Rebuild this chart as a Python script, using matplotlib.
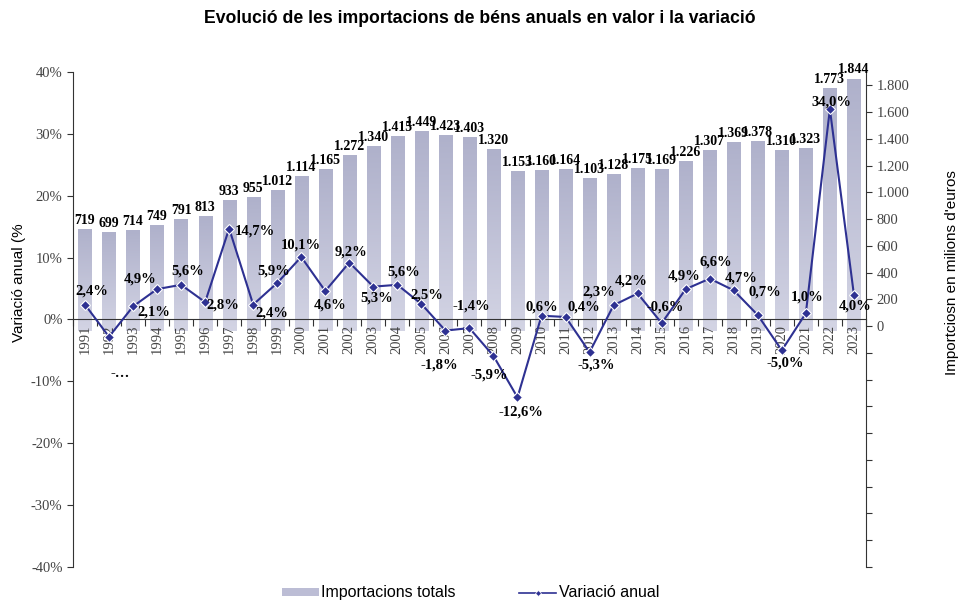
import numpy as np
import matplotlib
matplotlib.use('Agg')
import matplotlib.pyplot as plt
import matplotlib.ticker as mticker
from matplotlib.colors import LinearSegmentedColormap
from matplotlib.patches import Patch
from matplotlib.lines import Line2D

# data
years = list(range(1991, 2024))
imports = [719, 699, 714, 749, 791, 813, 933, 955, 1012, 1114, 1165, 1272, 1340,
           1415, 1449, 1423, 1403, 1320, 1153, 1160, 1164, 1103, 1128, 1175, 1169,
           1226, 1307, 1369, 1378, 1310, 1323, 1773, 1844]
variation = [2.4, -2.8, 2.1, 4.9, 5.6, 2.8, 14.7, 2.4, 5.9, 10.1, 4.6, 9.2, 5.3,
             5.6, 2.5, -1.8, -1.4, -5.9, -12.6, 0.6, 0.4, -5.3, 2.3, 4.2, -0.6,
             4.9, 6.6, 4.7, 0.7, -5.0, 1.0, 34.0, 4.0]

# label offsets for the % labels (pixels), copied by eye from the original
lab_off = [(7, 14), (11, -37), (21, -6), (-17, 10), (7, 14), (18, -3), (26, -3),
           (19, -8), (-4, 12), (0, 12), (5, -14), (2, 11), (3, -11), (6, 13),
           (5, 9), (-6, -34), (2, 22), (-4, -19), (3, -15), (0, 9), (18, 10),
           (7, -13), (-15, 13), (-6, 12), (4, 16), (-2, 13), (6, 17), (7, 12),
           (7, 23), (3, -13), (1, 16), (2, 7), (1, -11)]

serif = 'Liberation Serif'
sans = 'Liberation Sans'
line_col = '#2e3192'
tick_col = '#444444'

def thousands(v):
    return f'{int(v):,}'.replace(',', '.')

fig = plt.figure(figsize=(9.6, 6.05), dpi=100)
ax = fig.add_axes([0.076, 0.063, 0.826, 0.818])
ax2 = ax.twinx()
ax.set_zorder(ax2.get_zorder() + 1)
ax.patch.set_visible(False)

x = np.arange(len(years))

# bars (right axis), with a vertical gradient
bars = ax2.bar(x, imports, width=0.55, color='#bcbdd5', zorder=1)
cmap = LinearSegmentedColormap.from_list('g', ['#d3d4e4', '#afb1cb'])
grad = np.linspace(0, 1, 100).reshape(-1, 1)[::-1]
for b in bars:
    x0, w, h = b.get_x(), b.get_width(), b.get_height()
    ax2.imshow(grad, extent=[x0, x0 + w, -40, h], aspect='auto', cmap=cmap,
               zorder=1.5)
ax2.set_ylim(-1800, 1900)
ax2.set_xlim(-0.5, len(years) - 0.5)
ax2.yaxis.set_major_locator(mticker.FixedLocator(np.arange(-1800, 1801, 200)))
ax2.yaxis.set_major_formatter(mticker.FuncFormatter(
    lambda v, p: thousands(v) if v >= 0 else ''))
ax2.tick_params(axis='y', direction='out', length=4, colors='#333333',
                labelcolor=tick_col, labelsize=10.5)
for t in ax2.get_yticklabels():
    t.set_fontfamily(serif)
for b, v in zip(bars, imports):
    ax2.annotate(thousands(v), (b.get_x() + b.get_width() / 2, v),
                 xytext=(0, 3), textcoords='offset pixels', ha='center',
                 va='bottom', fontsize=10, fontweight='bold', family=serif)

# line (left axis)
ax.plot(x, variation, color=line_col, lw=1.5, marker='D', ms=5,
        mfc=line_col, mec='white', mew=0.8, zorder=3)
ax.set_ylim(-40, 40)
ax.set_xlim(-0.5, len(years) - 0.5)
ax.yaxis.set_major_locator(mticker.MultipleLocator(10))
ax.yaxis.set_major_formatter(mticker.FuncFormatter(lambda v, p: f'{v:.0f}%'))
ax.tick_params(axis='y', direction='out', length=4, colors='#333333',
               labelcolor=tick_col, labelsize=10.5)
for t in ax.get_yticklabels():
    t.set_fontfamily(serif)

labels = [f'{v:.1f}%'.replace('.', ',') for v in variation]
labels[1] = '-…'
for xi, v, s, (dx, dy) in zip(x, variation, labels, lab_off):
    ax.annotate(s, (xi, v), xytext=(dx, dy), textcoords='offset pixels',
                ha='center', va='center', fontsize=10.5, fontweight='bold',
                family=serif, zorder=4)

# x axis at 0%
ax.spines['bottom'].set_position(('data', 0))
ax.spines['top'].set_visible(False)
ax2.spines['top'].set_visible(False)
ax2.spines['bottom'].set_visible(False)
ax.spines['right'].set_visible(False)
for s in ['left', 'bottom']:
    ax.spines[s].set_color('#333333')
ax2.spines['right'].set_color('#333333')
ax2.spines['left'].set_visible(False)

ax.set_xticks(np.arange(-0.5, len(years), 1))
ax.set_xticklabels([])
ax.set_xticks(x, minor=True)
ax.set_xticklabels([str(y) for y in years], minor=True, rotation=90,
                   family=serif, fontsize=10.5, color=tick_col)
ax.tick_params(axis='x', which='major', direction='out', length=5,
               color='#333333')
ax.tick_params(axis='x', which='minor', length=0, pad=4)

fig.text(0.5, 0.97, 'Evolució de les importacions de béns anuals en valor i la variació',
         ha='center', va='center', fontsize=12.7, fontweight='bold', family=sans)
fig.text(0.02, 0.532, 'Variació anual (%', rotation=90, ha='center',
         va='center', fontsize=11, family=sans)
fig.text(0.992, 0.55, "Importciosn en milions d'euros", rotation=90,
         ha='center', va='center', fontsize=11, family=sans)

handles = [Patch(facecolor='#bcbdd5', edgecolor='none'),
           Line2D([], [], color=line_col, lw=1.2, marker='D', ms=3,
                  mfc=line_col, mec='white', mew=0.5)]
fig.legend(handles, ['Importacions totals', 'Variació anual'], loc='center',
           bbox_to_anchor=(0.49, 0.02), ncol=2, frameon=False,
           prop={'family': sans, 'size': 11.5}, handlelength=2.3,
           handleheight=0.4, handletextpad=0.15, columnspacing=4.0)

fig.savefig('out.png', dpi=100)
